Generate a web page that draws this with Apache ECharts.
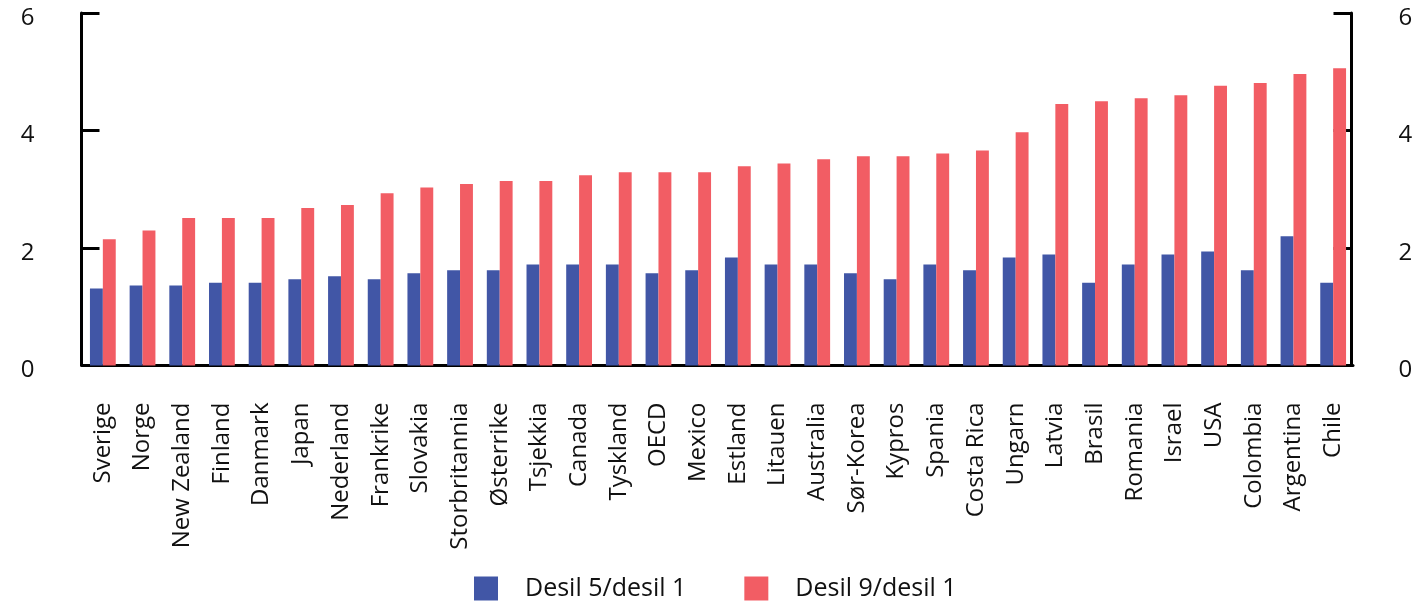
<!DOCTYPE html>
<html>
<head>
<meta charset="utf-8">
<script src="https://cdn.jsdelivr.net/npm/echarts@6/dist/echarts.min.js"></script>
<style>html,body{margin:0;padding:0;background:#fff}#c{width:1422px;height:601px}</style>
</head>
<body>
<div id="c"></div>
<script>
const categories = ["Sverige","Norge","New Zealand","Finland","Danmark","Japan","Nederland","Frankrike","Slovakia","Storbritannia","Østerrike","Tsjekkia","Canada","Tyskland","OECD","Mexico","Estland","Litauen","Australia","Sør-Korea","Kypros","Spania","Costa Rica","Ungarn","Latvia","Brasil","Romania","Israel","USA","Colombia","Argentina","Chile"];
const desil5 = [1.31,1.36,1.36,1.41,1.41,1.47,1.52,1.47,1.57,1.62,1.62,1.72,1.72,1.72,1.57,1.62,1.84,1.72,1.72,1.57,1.47,1.72,1.62,1.84,1.89,1.41,1.72,1.89,1.94,1.62,2.2,1.41];
const desil9 = [2.15,2.30,2.51,2.51,2.51,2.68,2.73,2.93,3.03,3.09,3.14,3.14,3.24,3.29,3.29,3.29,3.39,3.44,3.51,3.56,3.56,3.61,3.66,3.97,4.45,4.50,4.55,4.60,4.76,4.81,4.96,5.06];
const yTicks = [0,2,4,6];
const seriesNames = ["Desil 5/desil 1","Desil 9/desil 1"];

const FONT = "Open Sans";
const TXT = "#111";
const chart = echarts.init(document.getElementById('c'));
function yAxisDef(pos, offset) {
  return {
    type: 'value', position: pos, offset: offset,
    min: yTicks[0], max: yTicks[yTicks.length-1], interval: 2,
    axisLine: {show: true, lineStyle: {color: '#000', width: 3}},
    axisTick: {show: true, inside: true, length: 18, lineStyle: {color: '#000', width: 3}},
    splitLine: {show: false},
    axisLabel: {fontFamily: FONT, fontSize: 24, color: TXT, margin: 47, verticalAlign: 'top', lineHeight: 10}
  };
}
chart.setOption({
  animation: false,
  textStyle: {fontFamily: FONT},
  grid: {left: 83, right: 69, top: 13, bottom: 235.5, containLabel: false},
  legend: {
    data: seriesNames, left: 474, top: 576, padding: 0,
    itemWidth: 24, itemHeight: 24, itemGap: 58, icon: 'rect',
    textStyle: {fontFamily: FONT, fontSize: 25, color: TXT, padding: [0,0,0,22]}
  },
  xAxis: {
    type: 'category', data: categories,
    axisLine: {show: true, lineStyle: {color: '#000', width: 3}},
    axisTick: {show: false},
    axisLabel: {rotate: 90, interval: 0, fontFamily: FONT, fontSize: 24, color: TXT, margin: 37}
  },
  yAxis: [yAxisDef('left', 1.5), yAxisDef('right', -1.5)],
  series: [
    {name: seriesNames[0], type: 'bar', data: desil5, itemStyle: {color: '#4156A6'}, barGap: '0%', barCategoryGap: '35%'},
    {name: seriesNames[1], type: 'bar', data: desil9, itemStyle: {color: '#F25D64'}, barGap: '0%', barCategoryGap: '35%'}
  ]
});
</script>
</body>
</html>
